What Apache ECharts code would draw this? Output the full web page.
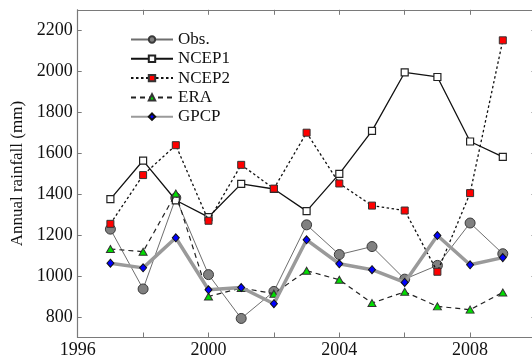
<!DOCTYPE html>
<html>
<head>
<meta charset="utf-8">
<script src="https://cdn.jsdelivr.net/npm/echarts@6/dist/echarts.min.js"></script>
<style>
html,body{margin:0;padding:0;background:#fff;}
#chart{width:532px;height:361px;}
</style>
</head>
<body>
<div id="chart"></div>
<script>
var years = [1997, 1998, 1999, 2000, 2001, 2002, 2003, 2004, 2005, 2006, 2007, 2008, 2009];
var obs   = [1229, 937, 1382, 1007, 793, 925, 1250, 1105, 1144, 985, 1052, 1259, 1109];
var ncep1 = [1376, 1564, 1370, 1288, 1450, 1425, 1317, 1499, 1709, 1994, 1972, 1657, 1582];
var ncep2 = [1255, 1493, 1639, 1270, 1543, 1427, 1700, 1452, 1344, 1320, 1021, 1405, 2151];
var era   = [1132, 1119, 1403, 900, 942, 914, 1026, 982, 868, 923, 852, 836, 920];
var gpcp  = [1063, 1040, 1187, 933, 944, 865, 1177, 1060, 1031, 969, 1198, 1055, 1090];
var xTickLabels = [1996, 2000, 2004, 2008];
var xTicks = [1996, 1998, 2000, 2002, 2004, 2006, 2008, 2010];
var yTickLabels = [800, 1000, 1200, 1400, 1600, 1800, 2000, 2200];
var seriesNames = ['Obs.', 'NCEP1', 'NCEP2', 'ERA', 'GPCP'];

function pairs(vals) {
  return years.map(function (y, i) { return [y, vals[i]]; });
}

var FONT = "'Liberation Serif', 'Times New Roman', 'DejaVu Serif', serif";
var AXC = '#7a7a7a';

var chart = echarts.init(document.getElementById('chart'), null, {renderer: 'canvas'});

function plain(v) { return String(Math.round(v)); }

function xAx(pos, showLabel) {
  return {
    type: 'value', position: pos, min: 1996, max: 2010, interval: 2,
    axisLine: {show: true, onZero: false, lineStyle: {color: AXC, width: 1.2}},
    axisTick: {show: true, inside: true, length: 5, customValues: xTicks, lineStyle: {color: AXC, width: 1}},
    axisLabel: {show: showLabel, customValues: xTickLabels, formatter: plain, margin: 4, color: '#111', fontFamily: FONT, fontSize: 18},
    splitLine: {show: false}
  };
}
function yAx(pos, showLabel) {
  var a = {
    type: 'value', position: pos, min: 700, max: 2300, interval: 100,
    axisLine: {show: true, onZero: false, lineStyle: {color: AXC, width: 1.2}},
    axisTick: {show: true, inside: true, length: 4, customValues: yTickLabels, lineStyle: {color: AXC, width: 1}},
    axisLabel: {show: showLabel, customValues: yTickLabels, formatter: plain, margin: 5, color: '#111', fontFamily: FONT, fontSize: 18},
    splitLine: {show: false}
  };
  if (showLabel) {
    a.name = 'Annual rainfall (mm)';
    a.nameLocation = 'middle';
    a.nameGap = 41;
    a.nameTextStyle = {fontFamily: FONT, fontSize: 17, color: '#111'};
  }
  return a;
}

var option = {
  animation: false,
  backgroundColor: '#fff',
  textStyle: {fontFamily: FONT},
  grid: {left: 77.7, right: -3.5, top: 9.8, bottom: 23.5, outerBoundsMode: 'none', containLabel: false},
  xAxis: [xAx('bottom', true), xAx('top', false)],
  yAxis: [yAx('left', true), yAx('right', false)],
  legend: {
    orient: 'vertical', left: 125, top: 26,
    itemWidth: 42, itemHeight: 8, itemGap: 2.3,
    textStyle: {fontFamily: FONT, fontSize: 17, color: '#111'},
    data: seriesNames
  },
  series: [
    {
      name: seriesNames[0], type: 'line', data: pairs(obs),
      symbol: 'circle', symbolSize: 10,
      lineStyle: {color: '#6e6e6e', width: 1},
      itemStyle: {color: '#808080', borderColor: '#3a3a3a', borderWidth: 1},
      z: 2
    },
    {
      name: seriesNames[1], type: 'line', data: pairs(ncep1),
      symbol: 'rect', symbolSize: 7,
      lineStyle: {color: '#111', width: 1.3},
      itemStyle: {color: '#fff', borderColor: '#222', borderWidth: 1.2},
      z: 3
    },
    {
      name: seriesNames[2], type: 'line', data: pairs(ncep2),
      symbol: 'rect', symbolSize: 7,
      lineStyle: {color: '#111', width: 1.3, type: [2.5, 2.5]},
      itemStyle: {color: '#ff0000', borderColor: '#333', borderWidth: 1},
      z: 4
    },
    {
      name: seriesNames[3], type: 'line', data: pairs(era),
      symbol: 'triangle', symbolSize: [8, 7],
      lineStyle: {color: '#222', width: 1.2, type: [5, 4]},
      itemStyle: {color: '#00dd00', borderColor: '#333', borderWidth: 1},
      z: 5
    },
    {
      name: seriesNames[4], type: 'line', data: pairs(gpcp),
      symbol: 'diamond', symbolSize: [7, 8],
      lineStyle: {color: '#9a9a9a', width: 3.5},
      itemStyle: {color: '#0000ff', borderColor: '#111', borderWidth: 1},
      z: 6
    }
  ]
};
chart.setOption(option);
</script>
</body>
</html>
